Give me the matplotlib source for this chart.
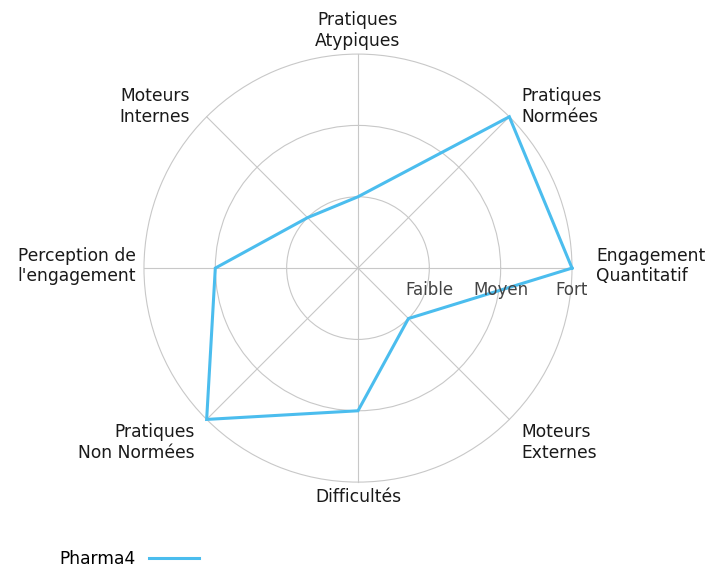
import numpy as np
import matplotlib
matplotlib.use('Agg')
import matplotlib.pyplot as plt

categories = ['Engagement\nQuantitatif', 'Pratiques\nNormées', 'Pratiques\nAtypiques',
              'Moteurs\nInternes', "Perception de\nl'engagement", 'Pratiques\nNon Normées',
              'Difficultés', 'Moteurs\nExternes']
values = [3, 3, 1, 1, 2, 3, 2, 1]
levels = [1, 2, 3]
level_labels = ['Faible', 'Moyen', 'Fort']
series_name = 'Pharma4'

color = '#4bbdee'
grid_color = '#c8c8c8'

# label placement: (ha, va, dx px, dy px) relative to outer ring point
label_style = [
    ('left', 'center', 24, 2),
    ('left', 'center', 12, 10),
    ('center', 'bottom', 0, 4),
    ('right', 'center', -17, 10),
    ('right', 'center', -8, 2),
    ('right', 'center', -12, -23),
    ('center', 'top', 0, -6),
    ('left', 'center', 12, -23),
]

n = len(categories)
angles = np.linspace(0, 2 * np.pi, n, endpoint=False)

fig = plt.figure(figsize=(7.11, 5.68), dpi=100)
ax = fig.add_axes([0.2025, 0.151, 0.602, 0.754], projection='polar')

ax.plot(np.append(angles, angles[0]), values + values[:1], color=color, lw=2.2,
        label=series_name, solid_joinstyle='miter', clip_on=False)

ax.set_ylim(0, max(levels))
ax.set_yticks(levels)
ax.set_yticklabels([])
ax.set_xticks(angles)
ax.set_xticklabels([])
ax.grid(True, color=grid_color, lw=0.8)
for gl in ax.yaxis.get_gridlines() + ax.xaxis.get_gridlines():
    gl.set_clip_on(False)
ax.spines['polar'].set_visible(False)
ax.tick_params(length=0)

for a, lab, (ha, va, dx, dy) in zip(angles, categories, label_style):
    ax.annotate(lab, xy=(a, max(levels)), xytext=(dx * 0.72, dy * 0.72),
                textcoords='offset points', ha=ha, va=va, multialignment=ha,
                fontsize=12.3, color='#1a1a1a')

for lv, lab in zip(levels, level_labels):
    ax.annotate(lab, xy=(0, lv), xytext=(0, -22 * 0.72), textcoords='offset points',
                ha='center', va='center', fontsize=12, color='#444444')

fig.legend(loc='lower left', bbox_to_anchor=(0.062, -0.027), frameon=False,
           markerfirst=False, fontsize=12.3, handlelength=2.9)

fig.savefig('out.png', dpi=100)
